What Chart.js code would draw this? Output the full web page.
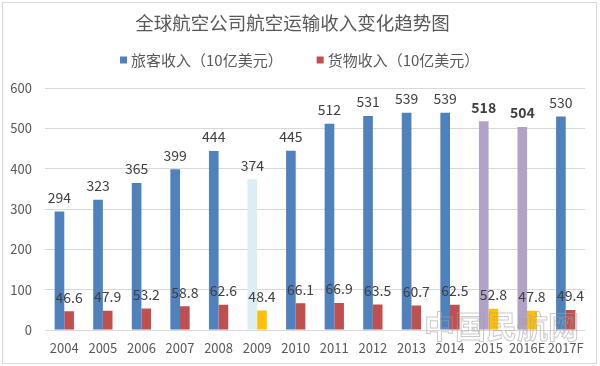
<!DOCTYPE html>
<html>
<head>
<meta charset="utf-8">
<script src="https://cdn.jsdelivr.net/npm/chart.js@4"></script>
<style>
  html, body { margin: 0; padding: 0; background: #fff; }
  #wrap { width: 600px; height: 366px; }
</style>
</head>
<body>
<div id="wrap"><canvas id="c" width="600" height="366"></canvas></div>
<script>
// données
const years = ['2004', '2005', '2006', '2007', '2008', '2009', '2010', '2011', '2012', '2013', '2014', '2015', '2016E', '2017F'];
const passenger = [294, 323, 365, 399, 444, 374, 445, 512, 531, 539, 539, 518, 504, 530];
const cargo = [46.6, 47.9, 53.2, 58.8, 62.6, 48.4, 66.1, 66.9, 63.5, 60.7, 62.5, 52.8, 47.8, 49.4];
const yTicks = [0, 100, 200, 300, 400, 500, 600];

const FONT = '"Noto Sans CJK SC", "Noto Sans", sans-serif';
const BLUE = '#4F81BD', RED = '#C0504D';

// couleurs spéciales : 2009 en clair, 2015/2016E en violet, fret en jaune
const passColors = years.map(y => y === '2009' ? '#DAEEF3' : (y === '2015' || y === '2016E') ? '#B3A2C7' : BLUE);
const cargoColors = years.map(y => (y === '2009' || y === '2015' || y === '2016E') ? '#FFC000' : RED);
const boldLabels = ['2015', '2016E'];

const frame = {
  id: 'frame',
  beforeDraw(chart) {
    const ctx = chart.ctx;
    ctx.save();
    ctx.fillStyle = '#fff';
    ctx.fillRect(0, 0, chart.width, chart.height);
    ctx.strokeStyle = '#D9D9D9';
    ctx.lineWidth = 1;
    ctx.strokeRect(2.5, 2.5, chart.width - 6, chart.height - 5);
    ctx.restore();
  }
};

// légende dessinée à la main (espacement comme l'original)
const legendRow = {
  id: 'legendRow',
  afterDraw(chart) {
    const ctx = chart.ctx;
    const ds = chart.data.datasets;
    const cols = [BLUE, RED];
    ctx.save();
    ctx.font = '15px ' + FONT;
    ctx.textBaseline = 'middle';
    const widths = ds.map(d => 7 + 4 + ctx.measureText(d.label).width);
    const total = widths.reduce((a, b) => a + b, 0) + 34 * (ds.length - 1);
    let x = Math.round(chart.width / 2 - total / 2);
    const y = 60;
    ds.forEach((d, i) => {
      ctx.fillStyle = cols[i];
      ctx.fillRect(x, y - 3.5, 7, 7);
      ctx.fillStyle = '#595959';
      ctx.fillText(d.label, x + 11, y);
      x += widths[i] + 34;
    });
    ctx.restore();
  }
};

const valueLabels = {
  id: 'valueLabels',
  afterDatasetsDraw(chart) {
    const ctx = chart.ctx;
    ctx.save();
    ctx.fillStyle = '#404040';
    ctx.textAlign = 'center';
    ctx.textBaseline = 'bottom';
    chart.data.datasets.forEach((ds, i) => {
      chart.getDatasetMeta(i).data.forEach((bar, j) => {
        const bold = i === 0 && boldLabels.includes(years[j]);
        ctx.font = (bold ? 'bold ' : '') + '14px ' + FONT;
        ctx.fillText(String(ds.data[j]), bar.x, bar.y - 7);
      });
    });
    // filigrane
    ctx.font = 'bold 31px ' + FONT;
    ctx.strokeStyle = 'rgba(160,160,160,0.55)';
    ctx.lineWidth = 1;
    ctx.textAlign = 'left';
    ctx.textBaseline = 'alphabetic';
    ctx.strokeText('中国民航网', 424, 338);
    ctx.restore();
  }
};

new Chart(document.getElementById('c'), {
  type: 'bar',
  data: {
    labels: years,
    datasets: [
      { label: '旅客收入（10亿美元）', data: passenger, backgroundColor: passColors },
      { label: '货物收入（10亿美元）', data: cargo, backgroundColor: cargoColors }
    ]
  },
  options: {
    responsive: false,
    animation: false,
    categoryPercentage: 0.5,
    barPercentage: 1,
    layout: { padding: { left: 0, right: 15, top: 0, bottom: 10 } },
    plugins: {
      title: {
        display: true,
        text: '全球航空公司航空运输收入变化趋势图',
        color: '#595959',
        font: { family: FONT, size: 18.5, weight: 'normal', lineHeight: 1.2 },
        padding: { top: 12, bottom: 54 }
      },
      legend: { display: false },
      tooltip: { enabled: false }
    },
    scales: {
      x: {
        afterFit: axis => { axis.height = 26; },
        grid: { display: false },
        border: { display: false },
        ticks: { color: '#595959', font: { family: FONT, size: 13 }, maxRotation: 0, autoSkip: false, padding: 2 }
      },
      y: {
        min: 0,
        max: 600,
        afterFit: axis => { axis.width = 45; },
        afterBuildTicks: axis => { axis.ticks = yTicks.map(v => ({ value: v })); },
        grid: { color: '#D9D9D9', drawTicks: false },
        border: { display: false },
        ticks: { color: '#595959', font: { family: FONT, size: 13 }, padding: 13 }
      }
    }
  },
  plugins: [frame, legendRow, valueLabels]
});
</script>
</body>
</html>
